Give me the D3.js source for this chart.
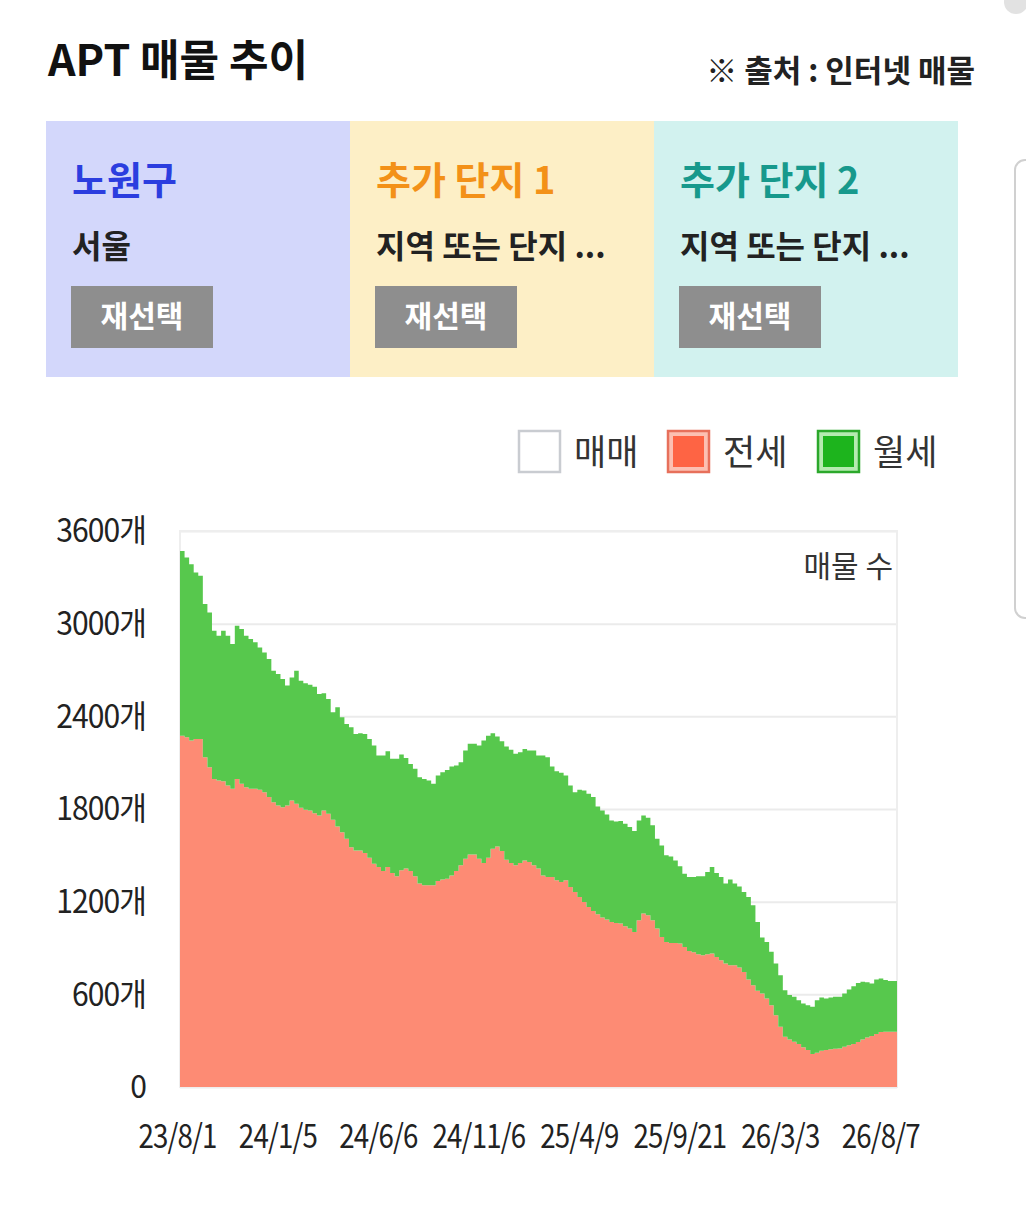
<!DOCTYPE html>
<html>
<head>
<meta charset="utf-8">
<script src="https://cdn.jsdelivr.net/npm/d3@7"></script>
<style>
body { margin: 0; background: #fff; }
text { font-family: "Noto Sans CJK KR", "Noto Sans", sans-serif; }
</style>
</head>
<body>
<script>
// 주간 매물 수 (전세 / 월세)
var jeonse = [2275,2265,2243,2254,2254,2135,2071,1995,1985,1980,1952,1931,1995,1963,1941,1931,1931,1924,1909,1877,
  1844,1823,1812,1823,1855,1834,1808,1795,1791,1773,1758,1791,1769,1730,1687,1650,1608,1553,1532,1532,
  1515,1485,1446,1424,1398,1424,1385,1364,1403,1414,1398,1364,1317,1306,1306,1306,1334,1343,1349,1370,
  1398,1435,1478,1506,1506,1478,1450,1485,1543,1558,1528,1472,1450,1435,1450,1467,1457,1435,1414,1370,
  1360,1360,1338,1327,1338,1295,1263,1230,1198,1166,1140,1118,1097,1084,1069,1062,1058,1041,1026,1004,
  1080,1123,1112,1080,1026,972,939,933,933,929,907,881,873,860,853,860,864,842,820,799,
  788,788,774,745,696,659,623,606,573,530,465,390,325,308,293,278,257,239,213,222,
  235,239,244,248,250,261,270,278,291,308,321,330,343,356,358,358,358];

var wolse = [1196,1163,1142,1077,1056,992,1002,959,937,974,970,937,991,1002,981,969,948,922,905,894,
  851,851,830,776,797,861,823,819,814,819,787,758,743,696,772,744,743,776,754,758,
  771,769,765,722,748,750,740,761,750,717,694,696,689,689,679,657,683,695,704,705,
  683,668,700,716,716,733,793,790,747,711,711,732,733,722,718,722,721,743,732,776,
  775,715,707,707,679,657,646,694,722,732,737,698,694,681,657,657,664,663,657,653,
  646,635,631,614,582,592,561,560,534,500,474,479,487,504,511,532,560,543,540,518,
  555,529,525,518,534,518,446,362,366,345,334,334,302,287,291,284,284,291,306,340,
  345,334,336,336,334,345,361,375,383,373,358,340,353,347,334,329,329];

var dateLabels = ["23/8/1", "24/1/5", "24/6/6", "24/11/6", "25/4/9", "25/9/21", "26/3/3", "26/8/7"];
var labelEvery = 22;

var yTicks = [0, 600, 1200, 1800, 2400, 3000, 3600];

var legendNames = ["매매", "전세", "월세"];

var panelTitles = ["노원구", "추가 단지 1", "추가 단지 2"];
var panelSubs = ["서울", "지역 또는 단지 ...", "지역 또는 단지 ..."];

var W = 1026, H = 1214;
var pLeft = 180, pRight = 897, pTop = 531, pBottom = 1087;

var svg = d3.select("body").append("svg")
  .attr("width", W)
  .attr("height", H);

// 상단 제목
svg.append("text")
  .attr("x", 48).attr("y", 76)
  .attr("font-size", 43).attr("font-weight", 700)
  .attr("fill", "#111")
  .text("APT 매물 추이");

svg.append("text")
  .attr("x", 975).attr("y", 82)
  .attr("text-anchor", "end")
  .attr("font-size", 31).attr("font-weight", 700)
  .attr("fill", "#222")
  .text("※ 출처 : 인터넷 매물");

// 오른쪽 스크롤 흔적
svg.append("circle").attr("cx", 1016).attr("cy", 2).attr("r", 12).attr("fill", "#e2e2e2");
svg.append("rect")
  .attr("x", 1015).attr("y", 160).attr("width", 30).attr("height", 458).attr("rx", 10)
  .attr("fill", "none").attr("stroke", "#d0d0d0").attr("stroke-width", 2);

// 지역 선택 패널
var panelFill = ["#d3d7fb", "#fdefc6", "#d2f2ef"];
var panelColor = ["#2b3ddf", "#f39118", "#17998c"];

var panels = svg.selectAll("g.panel")
  .data(panelTitles)
  .enter().append("g")
  .attr("class", "panel")
  .attr("transform", function(d, i) { return "translate(" + (46 + i * 304) + ",121)"; });

panels.append("rect")
  .attr("width", 304).attr("height", 256)
  .attr("fill", function(d, i) { return panelFill[i]; });

panels.append("text")
  .attr("x", 26).attr("y", 73)
  .attr("font-size", 38).attr("font-weight", 700)
  .attr("fill", function(d, i) { return panelColor[i]; })
  .text(function(d) { return d; });

panels.append("text")
  .attr("x", 26).attr("y", 137)
  .attr("font-size", 32).attr("font-weight", 700)
  .attr("fill", "#222")
  .text(function(d, i) { return panelSubs[i]; });

panels.append("rect")
  .attr("x", 25).attr("y", 165)
  .attr("width", 142).attr("height", 62)
  .attr("fill", "#8e8e8e");

panels.append("text")
  .attr("x", 96).attr("y", 206)
  .attr("text-anchor", "middle")
  .attr("font-size", 30).attr("font-weight", 700)
  .attr("fill", "#fff")
  .text("재선택");

// 범례
var legX = [518, 667, 817];
var legOuter = ["#ffffff", "#fcc0b2", "#b5ebb0"];
var legStroke = ["#c9ccd1", "#e7705b", "#2ba82b"];
var legInner = ["#ffffff", "#fe6444", "#1db41d"];

var leg = svg.selectAll("g.leg")
  .data(legendNames)
  .enter().append("g")
  .attr("class", "leg")
  .attr("transform", function(d, i) { return "translate(" + legX[i] + ",430)"; });

leg.append("rect")
  .attr("x", 1).attr("y", 1).attr("width", 41).attr("height", 41)
  .attr("fill", function(d, i) { return legOuter[i]; })
  .attr("stroke", function(d, i) { return legStroke[i]; })
  .attr("stroke-width", 2.5);

leg.append("rect")
  .attr("x", 6).attr("y", 6).attr("width", 31).attr("height", 31)
  .attr("fill", function(d, i) { return legInner[i]; });

leg.append("text")
  .attr("x", 56).attr("y", 35)
  .attr("font-size", 35)
  .attr("fill", "#333")
  .text(function(d) { return d; });

// 스케일
var n = jeonse.length;
var x = d3.scaleLinear().domain([0, n]).range([pLeft, pRight]);
var y = d3.scaleLinear().domain([0, 3600]).range([pBottom, pTop]);

var rows = jeonse.map(function(v, i) { return {i: i, "전세": v, "월세": wolse[i]}; });
var stack = d3.stack().keys(["전세", "월세"]);
var series = stack(rows);

// 격자 / 테두리
svg.append("g")
  .attr("transform", "translate(" + pLeft + ",0)")
  .call(d3.axisLeft(y).tickValues(yTicks).tickSize(-(pRight - pLeft)).tickFormat(""))
  .call(function(g) { g.select(".domain").remove(); })
  .selectAll("line")
  .attr("stroke", "#ebebeb").attr("stroke-width", 2);

svg.append("rect")
  .attr("x", pLeft).attr("y", pTop)
  .attr("width", pRight - pLeft).attr("height", pBottom - pTop)
  .attr("fill", "none").attr("stroke", "#eeeeee").attr("stroke-width", 2);

var areaColors = {"전세": "#fd8b74", "월세": "#57c84d"};

var area = d3.area()
  .curve(d3.curveStepAfter)
  .x(function(d) { return x(d.i); })
  .y0(function(d) { return y(d.y0); })
  .y1(function(d) { return y(d.y1); });

series.forEach(function(s) {
  var pts = s.map(function(d, i) { return {i: i, y0: d[0], y1: d[1]}; });
  var last = pts[pts.length - 1];
  pts.push({i: n, y0: last.y0, y1: last.y1});
  svg.append("path")
    .datum(pts)
    .attr("d", area)
    .attr("fill", areaColors[s.key]);
});

// Y 축 라벨
var yAxis = svg.append("g")
  .attr("transform", "translate(146,0)")
  .call(d3.axisLeft(y).tickValues(yTicks).tickSize(0).tickPadding(0)
    .tickFormat(function(d) { return d === 0 ? "0" : d + "개"; }));
yAxis.select(".domain").remove();
yAxis.selectAll("text")
  .attr("font-size", 32)
  .attr("fill", "#222")
  .attr("letter-spacing", -1)
  .attr("transform", "scale(0.94,1)")
  .attr("dy", "0.34em");

// X 축 라벨
var tickIdx = dateLabels.map(function(d, i) { return i * labelEvery; });
var xAxis = svg.append("g")
  .attr("transform", "translate(-3," + pBottom + ")")
  .call(d3.axisBottom(x).tickValues(tickIdx).tickSize(0).tickPadding(0)
    .tickFormat(function(d, i) { return dateLabels[i]; }));
xAxis.select(".domain").remove();
xAxis.selectAll("text")
  .attr("font-size", 33)
  .attr("fill", "#222")
  .attr("letter-spacing", -1)
  .attr("transform", "scale(0.84,1)")
  .attr("dy", "1.84em");

svg.append("text")
  .attr("x", 893).attr("y", 577)
  .attr("text-anchor", "end")
  .attr("font-size", 30)
  .attr("fill", "#333")
  .text("매물 수");
</script>
</body>
</html>
